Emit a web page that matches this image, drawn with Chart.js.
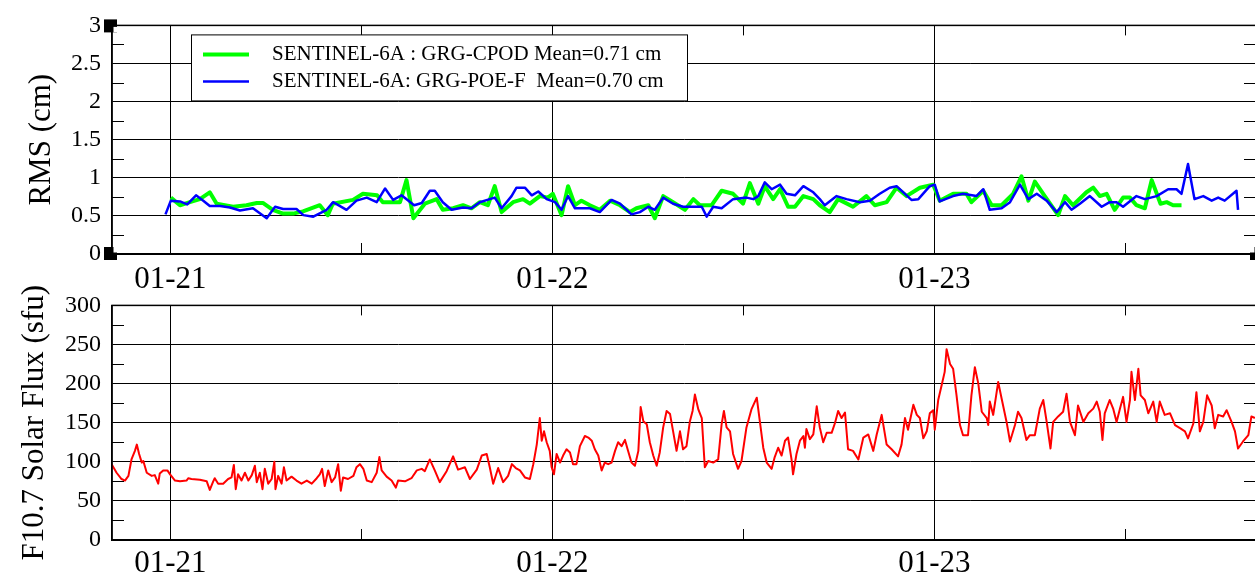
<!DOCTYPE html>
<html><head><meta charset="utf-8">
<script src="https://cdn.jsdelivr.net/npm/chart.js@4/dist/chart.umd.min.js"></script>
<style>
html,body{margin:0;padding:0;background:#fff;overflow:hidden;width:1255px;height:580px;position:relative}
.panel{position:absolute;left:0;width:1258px}
#top{top:0;height:290px}
#bot{top:280px;height:300px}
</style></head><body>
<div id="top" class="panel"><canvas id="c1" width="1258" height="290"></canvas></div>
<div id="bot" class="panel"><canvas id="c2" width="1258" height="300"></canvas></div>
<script>
// ---- data (dates as fractional years) ----
const seriesLabels = ['SENTINEL-6A : GRG-CPOD Mean=0.71 cm', 'SENTINEL-6A: GRG-POE-F  Mean=0.70 cm'];

const cpodDates = [
 2021.001,2021.025,2021.051,2021.077,2021.103,2021.121,2021.164,2021.199,2021.226,2021.242,
 2021.268,2021.295,2021.321,2021.347,2021.391,2021.412,2021.425,2021.478,2021.504,2021.541,
 2021.556,2021.582,2021.601,2021.618,2021.636,2021.666,2021.697,2021.713,2021.740,2021.766,
 2021.788,2021.810,2021.831,2021.849,2021.867,2021.897,2021.923,2021.941,2021.967,2021.988,
 2022.001,2022.024,2022.041,2022.059,2022.076,2022.098,2022.124,2022.151,2022.177,2022.203,
 2022.220,2022.251,2022.268,2022.290,2022.316,2022.347,2022.369,2022.386,2022.417,2022.443,
 2022.473,2022.499,2022.517,2022.539,2022.556,2022.578,2022.596,2022.617,2022.635,2022.657,
 2022.683,2022.700,2022.726,2022.748,2022.787,2022.822,2022.844,2022.875,2022.901,2022.927,
 2022.962,2022.997,2023.014,2023.049,2023.084,2023.097,2023.128,2023.150,2023.176,2023.206,
 2023.228,2023.246,2023.263,2023.289,2023.324,2023.342,2023.363,2023.398,2023.416,2023.433,
 2023.451,2023.472,2023.494,2023.512,2023.529,2023.551,2023.569,2023.592,2023.608,2023.625,
 2023.647];
const cpodRms = [
 0.74,0.64,0.68,0.72,0.81,0.66,0.62,0.64,0.67,0.67,
 0.58,0.53,0.53,0.56,0.64,0.51,0.66,0.71,0.79,0.77,
 0.68,0.68,0.68,0.97,0.47,0.66,0.72,0.58,0.60,0.64,
 0.60,0.68,0.64,0.89,0.55,0.68,0.72,0.66,0.76,0.74,
 0.79,0.51,0.89,0.64,0.70,0.64,0.58,0.70,0.64,0.55,
 0.60,0.64,0.47,0.76,0.68,0.58,0.72,0.64,0.64,0.83,
 0.79,0.66,0.93,0.66,0.89,0.72,0.85,0.62,0.62,0.76,
 0.72,0.64,0.55,0.72,0.62,0.76,0.64,0.68,0.87,0.76,
 0.87,0.91,0.70,0.79,0.79,0.68,0.83,0.64,0.64,0.79,
 1.02,0.70,0.95,0.76,0.51,0.76,0.64,0.81,0.87,0.76,
 0.79,0.58,0.74,0.74,0.64,0.60,0.97,0.66,0.68,0.64,
 0.64];

const poeDates = [
 2020.987,2021.001,2021.025,2021.044,2021.067,2021.086,2021.103,2021.130,2021.156,2021.182,
 2021.216,2021.252,2021.274,2021.295,2021.330,2021.348,2021.374,2021.409,2021.426,2021.461,
 2021.487,2021.514,2021.540,2021.562,2021.583,2021.605,2021.638,2021.658,2021.679,2021.692,
 2021.713,2021.736,2021.766,2021.788,2021.810,2021.836,2021.849,2021.867,2021.893,2021.906,
 2021.928,2021.946,2021.963,2021.985,2022.007,2022.024,2022.041,2022.059,2022.098,2022.124,
 2022.155,2022.177,2022.207,2022.229,2022.251,2022.268,2022.290,2022.316,2022.342,2022.391,
 2022.404,2022.421,2022.443,2022.473,2022.508,2022.526,2022.539,2022.556,2022.574,2022.596,
 2022.613,2022.635,2022.657,2022.683,2022.700,2022.713,2022.744,2022.770,2022.805,2022.831,
 2022.857,2022.883,2022.901,2022.940,2022.958,2022.988,2023.001,2023.014,2023.049,2023.075,
 2023.110,2023.128,2023.145,2023.176,2023.198,2023.224,2023.246,2023.268,2023.294,2023.320,
 2023.342,2023.359,2023.381,2023.407,2023.438,2023.459,2023.477,2023.494,2023.529,2023.551,
 2023.582,2023.612,2023.634,2023.647,2023.664,2023.681,2023.704,2023.726,2023.743,2023.760,
 2023.791,2023.795];
const poeRms = [
 0.52,0.70,0.69,0.65,0.77,0.70,0.63,0.63,0.61,0.57,
 0.60,0.47,0.62,0.59,0.59,0.51,0.49,0.58,0.68,0.58,
 0.70,0.74,0.68,0.86,0.71,0.77,0.64,0.67,0.83,0.83,
 0.68,0.58,0.61,0.60,0.68,0.72,0.74,0.60,0.76,0.87,
 0.87,0.77,0.82,0.72,0.68,0.58,0.76,0.60,0.60,0.55,
 0.71,0.66,0.52,0.55,0.62,0.58,0.74,0.66,0.62,0.62,
 0.49,0.62,0.60,0.72,0.74,0.72,0.76,0.94,0.85,0.91,
 0.79,0.77,0.89,0.81,0.72,0.64,0.76,0.72,0.68,0.70,
 0.79,0.87,0.89,0.71,0.72,0.89,0.91,0.69,0.76,0.79,
 0.76,0.85,0.58,0.60,0.68,0.91,0.72,0.79,0.70,0.55,
 0.68,0.58,0.66,0.76,0.62,0.68,0.68,0.62,0.76,0.72,
 0.76,0.85,0.85,0.79,1.18,0.72,0.76,0.70,0.74,0.70,
 0.83,0.58];

const fluxDates = [
 2020.846,2020.859,2020.872,2020.881,2020.890,2020.898,2020.907,2020.912,2020.918,2020.925,
 2020.929,2020.938,2020.951,2020.959,2020.968,2020.972,2020.981,2020.992,2020.999,2021.012,
 2021.025,2021.042,2021.047,2021.055,2021.077,2021.095,2021.103,2021.112,2021.116,2021.125,
 2021.138,2021.151,2021.160,2021.166,2021.171,2021.177,2021.186,2021.195,2021.204,2021.213,
 2021.221,2021.226,2021.234,2021.241,2021.247,2021.256,2021.265,2021.272,2021.275,2021.282,
 2021.291,2021.297,2021.304,2021.317,2021.330,2021.343,2021.357,2021.370,2021.383,2021.391,
 2021.397,2021.404,2021.413,2021.422,2021.431,2021.439,2021.446,2021.452,2021.465,2021.479,
 2021.487,2021.496,2021.505,2021.514,2021.527,2021.540,2021.547,2021.553,2021.566,2021.579,
 2021.590,2021.596,2021.614,2021.631,2021.645,2021.658,2021.666,2021.679,2021.692,2021.705,
 2021.723,2021.740,2021.753,2021.771,2021.784,2021.802,2021.815,2021.828,2021.836,2021.845,
 2021.858,2021.871,2021.884,2021.894,2021.904,2021.915,2021.928,2021.941,2021.950,2021.959,
 2021.967,2021.972,2021.978,2021.985,2021.993,2021.998,2022.004,2022.011,2022.020,2022.028,
 2022.037,2022.046,2022.054,2022.063,2022.072,2022.085,2022.094,2022.103,2022.111,2022.120,
 2022.129,2022.137,2022.146,2022.155,2022.164,2022.172,2022.181,2022.190,2022.198,2022.207,
 2022.216,2022.225,2022.231,2022.238,2022.247,2022.255,2022.264,2022.273,2022.281,2022.290,
 2022.299,2022.308,2022.316,2022.325,2022.334,2022.342,2022.351,2022.360,2022.367,2022.373,
 2022.382,2022.391,2022.399,2022.408,2022.421,2022.434,2022.443,2022.449,2022.456,2022.465,
 2022.473,2022.486,2022.495,2022.508,2022.521,2022.535,2022.543,2022.552,2022.561,2022.574,
 2022.582,2022.591,2022.600,2022.609,2022.617,2022.626,2022.630,2022.639,2022.648,2022.657,
 2022.661,2022.665,2022.674,2022.683,2022.692,2022.700,2022.709,2022.718,2022.731,2022.740,
 2022.748,2022.757,2022.766,2022.774,2022.787,2022.801,2022.814,2022.827,2022.840,2022.849,
 2022.862,2022.875,2022.888,2022.905,2022.914,2022.923,2022.931,2022.945,2022.954,2022.962,
 2022.971,2022.980,2022.988,2022.997,2023.001,2023.010,2023.019,2023.027,2023.032,2023.041,
 2023.049,2023.058,2023.067,2023.075,2023.088,2023.097,2023.106,2023.115,2023.124,2023.137,
 2023.141,2023.145,2023.154,2023.167,2023.176,2023.189,2023.198,2023.211,2023.219,2023.228,
 2023.241,2023.250,2023.263,2023.276,2023.285,2023.294,2023.304,2023.311,2023.324,2023.337,
 2023.346,2023.355,2023.368,2023.376,2023.390,2023.403,2023.416,2023.425,2023.433,2023.440,
 2023.446,2023.459,2023.468,2023.477,2023.486,2023.494,2023.503,2023.512,2023.516,2023.525,
 2023.534,2023.540,2023.551,2023.560,2023.573,2023.582,2023.590,2023.603,2023.617,2023.630,
 2023.643,2023.656,2023.664,2023.678,2023.686,2023.695,2023.704,2023.714,2023.726,2023.734,
 2023.743,2023.756,2023.765,2023.778,2023.787,2023.795,2023.808,2023.822,2023.830,2023.839];
const fluxValues = [
 97,86,78,76,82,103,114,122,110,99,
 101,86,82,83,72,85,89,89,84,76,
 75,76,79,78,77,75,64,75,79,72,
 72,78,80,96,65,84,76,86,76,83,
 95,74,86,65,91,72,78,100,65,82,
 72,93,76,81,76,72,76,72,79,84,
 91,69,89,74,80,97,63,80,78,82,
 93,97,91,76,74,86,106,89,81,76,
 67,76,75,79,89,91,88,103,89,74,
 88,107,90,93,78,90,108,110,93,72,
 92,74,82,97,92,89,80,78,97,122,
 156,127,139,125,114,93,84,110,99,108,
 116,112,97,97,120,133,131,127,116,108,
 89,99,97,99,114,125,120,128,114,99,
 95,114,170,152,148,125,108,95,112,144,
 165,161,139,114,139,116,120,152,165,186,
 167,156,93,101,99,103,148,165,144,139,
 110,91,101,144,167,182,152,118,99,91,
 106,118,108,127,131,103,84,110,127,133,
 118,142,129,135,171,144,125,137,137,150,
 165,156,163,116,114,103,131,135,114,135,
 160,122,116,107,122,156,141,173,160,156,
 130,139,162,166,141,179,198,215,244,225,
 219,185,147,134,134,185,221,200,164,156,
 147,177,160,202,181,151,126,147,164,156,
 128,134,134,168,179,151,117,151,158,164,
 187,151,134,172,151,162,168,177,164,128,
 162,179,168,151,168,183,151,179,215,179,
 219,185,179,162,177,151,177,160,162,147,
 143,139,130,149,189,139,151,185,172,143,
 160,158,166,151,139,117,126,134,158,156];

// ---- axes ----
const xMin = 2020.847, xMax = 2023.842;
const xTickValues = [2021, 2022, 2023];
const xTickLabels = ['01-21', '01-22', '01-23'];
const xMinorValues = [2021.5, 2022.5, 2023.5];
const rmsTicks = [0, 0.5, 1, 1.5, 2, 2.5, 3];
const rmsMinor = [0.25, 0.75, 1.25, 1.75, 2.25, 2.75];
const fluxTicks = [0, 50, 100, 150, 200, 250, 300];
const fluxMinor = [25, 75, 125, 175, 225, 275];

const serif = "'Liberation Serif', 'Times New Roman', serif";

function xy(ts, vs) {
  const n = Math.min(ts.length, vs.length), out = [];
  for (let i = 0; i < n; i++) out.push({x: ts[i], y: vs[i]});
  return out;
}

const frameDeco = {
  id: 'frameDeco',
  afterDatasetsDraw(chart, args, opts) {
    const {ctx, chartArea: a, scales} = chart;
    ctx.save();
    ctx.strokeStyle = '#000';
    ctx.lineWidth = 1;
    ctx.beginPath();
    (opts.xMinor || []).forEach(v => {
      const px = Math.round(scales.x.getPixelForValue(v)) + 0.5;
      ctx.moveTo(px, a.top); ctx.lineTo(px, a.top + 10);
      ctx.moveTo(px, a.bottom); ctx.lineTo(px, a.bottom - 11);
    });
    (opts.yMinor || []).forEach(v => {
      const py = Math.round(scales.y.getPixelForValue(v)) + 0.5;
      ctx.moveTo(a.left, py); ctx.lineTo(a.left + 12, py);
      ctx.moveTo(a.right, py); ctx.lineTo(a.right - 12, py);
    });
    ctx.stroke();
    ctx.lineWidth = 1.5;
    ctx.strokeRect(a.left, a.top, a.right - a.left, a.bottom - a.top);
    if (opts.corners) {
      const sq = [[a.left - 8, a.top - 6], [a.left - 8, a.bottom - 7], [a.right - 6, a.bottom - 7]];
      sq.forEach(([x, y]) => {
        ctx.fillStyle = '#000';
        ctx.fillRect(x, y, 13, 13);
        const ix0 = Math.max(x, a.left + 1.5), iy0 = Math.max(y, a.top + 1.5);
        const ix1 = Math.min(x + 13, a.right - 1.5), iy1 = Math.min(y + 13, a.bottom - 1.5);
        if (ix1 > ix0 && iy1 > iy0) { ctx.fillStyle = '#fff'; ctx.fillRect(ix0, iy0, ix1 - ix0, iy1 - iy0); }
      });
    }
    ctx.restore();
  }
};

const boxLegend = {
  id: 'boxLegend',
  afterDraw(chart, args, opts) {
    if (!opts.display) return;
    const {ctx, chartArea: a} = chart;
    const x = a.left + 79.5, y = a.top + 9.5, w = 496, h = 66;
    ctx.save();
    ctx.fillStyle = '#fff';
    ctx.fillRect(x, y, w, h);
    ctx.strokeStyle = '#000';
    ctx.lineWidth = 1;
    ctx.strokeRect(x, y, w, h);
    ctx.font = '21px ' + serif;
    ctx.textBaseline = 'middle';
    ctx.textAlign = 'left';
    chart.data.datasets.forEach((ds, i) => {
      const cy = y + 19.5 + i * 27;
      ctx.strokeStyle = ds.borderColor;
      ctx.lineWidth = ds.borderWidth;
      ctx.beginPath();
      ctx.moveTo(a.left + 91, cy); ctx.lineTo(a.left + 137, cy);
      ctx.stroke();
      ctx.fillStyle = '#000';
      ctx.fillText(ds.label, a.left + 160, cy);
    });
    ctx.restore();
  }
};

function xScale(h, pad) {
  return {
    type: 'linear', min: xMin, max: xMax,
    afterBuildTicks: s => { s.ticks = xTickValues.map(v => ({value: v})); },
    afterFit: s => { s.height = h; },
    ticks: {autoSkip: false, maxRotation: 0, padding: pad, color: '#000',
      font: {family: serif, size: 31},
      callback: v => { const i = xTickValues.indexOf(v); return i >= 0 ? xTickLabels[i] : ''; }},
    grid: {color: '#000', lineWidth: 1, drawTicks: false},
    border: {color: '#000', width: 1.5}
  };
}
function yScale(min, max, ticks, title, titlePad) {
  return {
    min: min, max: max,
    afterBuildTicks: s => { s.ticks = ticks.map(v => ({value: v})); },
    afterFit: s => { s.width = 112; },
    ticks: {padding: 11, color: '#000', font: {family: serif, size: 24}, callback: v => String(v)},
    grid: {color: '#000', lineWidth: 1, drawTicks: false},
    border: {color: '#000', width: 1.5},
    title: {display: true, text: title, color: '#000', font: {family: serif, size: 31}, padding: {top: titlePad, bottom: 0}}
  };
}

const common = {
  responsive: false, animation: false, devicePixelRatio: 1,
  elements: {point: {radius: 0}, line: {tension: 0, borderJoinStyle: 'round'}}
};

new Chart(document.getElementById('c1'), {
  type: 'line',
  data: {datasets: [
    {label: seriesLabels[0], data: xy(cpodDates, cpodRms), borderColor: '#00ff00', borderWidth: 4, order: 2},
    {label: seriesLabels[1], data: xy(poeDates, poeRms), borderColor: '#0000ff', borderWidth: 2.5, order: 1}
  ]},
  options: Object.assign({}, common, {
    layout: {padding: {top: 16, right: 2, left: 0, bottom: 0}},
    plugins: {legend: {display: false}, tooltip: {enabled: false},
      boxLegend: {display: true},
      frameDeco: {xMinor: xMinorValues, yMinor: rmsMinor, corners: true}},
    scales: {x: xScale(36, 7), y: yScale(0, 3, rmsTicks, 'RMS (cm)', 23)}
  }),
  plugins: [frameDeco, boxLegend]
});

new Chart(document.getElementById('c2'), {
  type: 'line',
  data: {datasets: [
    {label: 'F10.7 Solar Flux', data: xy(fluxDates, fluxValues), borderColor: '#ff0000', borderWidth: 2}
  ]},
  options: Object.assign({}, common, {
    layout: {padding: {top: 23, right: 2, left: 0, bottom: 0}},
    plugins: {legend: {display: false}, tooltip: {enabled: false},
      boxLegend: {display: false},
      frameDeco: {xMinor: xMinorValues, yMinor: fluxMinor, corners: false}},
    scales: {x: xScale(40, 5), y: yScale(0, 300, fluxTicks, 'F10.7 Solar Flux (sfu)', 16)}
  }),
  plugins: [frameDeco, boxLegend]
});
</script>
</body></html>
